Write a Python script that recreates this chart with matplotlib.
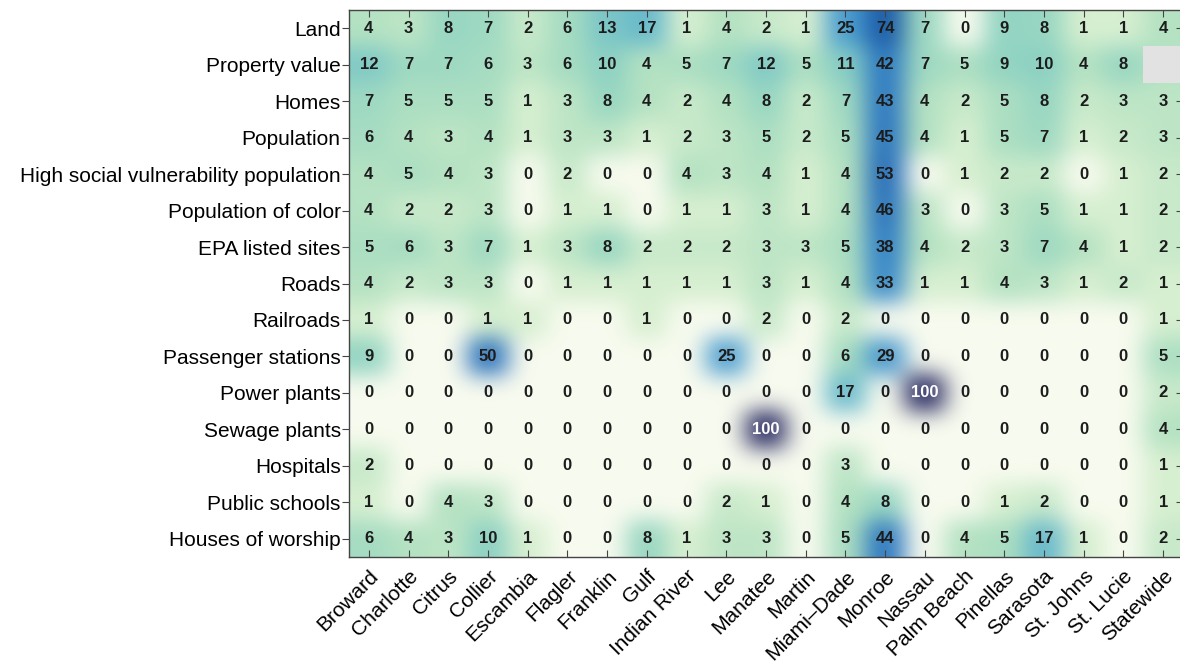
import numpy as np
import matplotlib
matplotlib.use("Agg")
import matplotlib.pyplot as plt
from matplotlib.colors import LinearSegmentedColormap, PowerNorm
from matplotlib.patches import Rectangle

counties = ["Broward", "Charlotte", "Citrus", "Collier", "Escambia", "Flagler",
            "Franklin", "Gulf", "Indian River", "Lee", "Manatee", "Martin",
            "Miami\u2013Dade", "Monroe", "Nassau", "Palm Beach", "Pinellas",
            "Sarasota", "St. Johns", "St. Lucie", "Statewide"]

assets = ["Land", "Property value", "Homes", "Population",
          "High social vulnerability population", "Population of color",
          "EPA listed sites", "Roads", "Railroads", "Passenger stations",
          "Power plants", "Sewage plants", "Hospitals", "Public schools",
          "Houses of worship"]

nan = np.nan
land          = [4, 3, 8, 7, 2, 6, 13, 17, 1, 4, 2, 1, 25, 74, 7, 0, 9, 8, 1, 1, 4]
property_val  = [12, 7, 7, 6, 3, 6, 10, 4, 5, 7, 12, 5, 11, 42, 7, 5, 9, 10, 4, 8, nan]
homes         = [7, 5, 5, 5, 1, 3, 8, 4, 2, 4, 8, 2, 7, 43, 4, 2, 5, 8, 2, 3, 3]
population    = [6, 4, 3, 4, 1, 3, 3, 1, 2, 3, 5, 2, 5, 45, 4, 1, 5, 7, 1, 2, 3]
high_svi      = [4, 5, 4, 3, 0, 2, 0, 0, 4, 3, 4, 1, 4, 53, 0, 1, 2, 2, 0, 1, 2]
pop_color     = [4, 2, 2, 3, 0, 1, 1, 0, 1, 1, 3, 1, 4, 46, 3, 0, 3, 5, 1, 1, 2]
epa_sites     = [5, 6, 3, 7, 1, 3, 8, 2, 2, 2, 3, 3, 5, 38, 4, 2, 3, 7, 4, 1, 2]
roads         = [4, 2, 3, 3, 0, 1, 1, 1, 1, 1, 3, 1, 4, 33, 1, 1, 4, 3, 1, 2, 1]
railroads     = [1, 0, 0, 1, 1, 0, 0, 1, 0, 0, 2, 0, 2, 0, 0, 0, 0, 0, 0, 0, 1]
passenger     = [9, 0, 0, 50, 0, 0, 0, 0, 0, 25, 0, 0, 6, 29, 0, 0, 0, 0, 0, 0, 5]
power_plants  = [0, 0, 0, 0, 0, 0, 0, 0, 0, 0, 0, 0, 17, 0, 100, 0, 0, 0, 0, 0, 2]
sewage_plants = [0, 0, 0, 0, 0, 0, 0, 0, 0, 0, 100, 0, 0, 0, 0, 0, 0, 0, 0, 0, 4]
hospitals     = [2, 0, 0, 0, 0, 0, 0, 0, 0, 0, 0, 0, 3, 0, 0, 0, 0, 0, 0, 0, 1]
schools       = [1, 0, 4, 3, 0, 0, 0, 0, 0, 2, 1, 0, 4, 8, 0, 0, 1, 2, 0, 0, 1]
worship       = [6, 4, 3, 10, 1, 0, 0, 8, 1, 3, 3, 0, 5, 44, 0, 4, 5, 17, 1, 0, 2]

values = np.array([land, property_val, homes, population, high_svi, pop_color,
                   epa_sites, roads, railroads, passenger, power_plants,
                   sewage_plants, hospitals, schools, worship], dtype=float)

plt.rcParams["font.family"] = ["Liberation Sans", "DejaVu Sans"]

cmap = LinearSegmentedColormap.from_list("exposure", [
    (0.00, "#f8fbef"),
    (0.10, "#d6efd0"),
    (0.20, "#b4e2c2"),
    (0.30, "#92d4c2"),
    (0.40, "#6cbdcb"),
    (0.50, "#4c9ed0"),
    (0.60, "#3686c8"),
    (0.70, "#2a72bc"),
    (0.86, "#1c5eaa"),
    (0.93, "#1f4488"),
    (1.00, "#262760"),
])
cmap.set_bad("#b4e2c2")
norm = PowerNorm(gamma=0.5, vmin=0, vmax=100)

# colour every cell, then soften the cell borders with a gaussian blur
rgba = cmap(norm(np.ma.masked_invalid(values)))
up = 24
big = np.repeat(np.repeat(rgba, up, axis=0), up, axis=1)
sigma = 0.30 * up
radius = int(3 * sigma)
k = np.exp(-0.5 * (np.arange(-radius, radius + 1) / sigma) ** 2)
k /= k.sum()


def blur(img, axis):
    pad = [(0, 0)] * img.ndim
    pad[axis] = (radius, radius)
    p = np.pad(img, pad, mode="edge")
    out = np.zeros_like(img)
    n = img.shape[axis]
    for i, w in enumerate(k):
        out += w * np.take(p, range(i, i + n), axis=axis)
    return out


smooth = np.clip(blur(blur(big, 0), 1), 0, 1)

fig = plt.figure(figsize=(11.8, 6.61), dpi=100)
left, right_px, top_px, bottom_px = 349, 1183, 10, 557
ax = fig.add_axes([left / 1180, 1 - bottom_px / 661,
                   (right_px - left) / 1180, (bottom_px - top_px) / 661])

n_rows, n_cols = values.shape
ax.imshow(smooth, aspect="auto", interpolation="bilinear",
          extent=(-0.5, n_cols - 0.5, n_rows - 0.5, -0.5))

for i in range(n_rows):
    for j in range(n_cols):
        v = values[i, j]
        if np.isnan(v):
            ax.add_patch(Rectangle((j - 0.5, i - 0.5), 1, 1, facecolor="#e2e2e2",
                                   edgecolor="none", zorder=3))
            continue
        ax.text(j, i, f"{int(v)}", ha="center", va="center", fontsize=12,
                fontweight="bold", color="white" if v >= 90 else "#1c1c1c",
                zorder=4)

ax.set_xticks(range(n_cols))
ax.set_xticklabels(counties, rotation=45, ha="right", rotation_mode="anchor",
                   fontsize=15)
ax.set_yticks(range(n_rows))
ax.set_yticklabels(assets, fontsize=15)
ax.set_xlim(-0.5, n_cols - 0.5)
ax.set_ylim(n_rows - 0.5, -0.5)

ax.tick_params(axis="y", left=True, right=True, direction="out", length=5,
               width=0.8, color="#444444", pad=1)
ax.tick_params(axis="x", top=True, bottom=True, direction="in", length=5,
               width=0.8, color="#444444", pad=7)
for t in ax.yaxis.get_ticklines()[1::2]:
    t.set_marker(0)  # right-side ticks point inward
for sp in ax.spines.values():
    sp.set_color("#444444")
    sp.set_linewidth(1.0)

fig.savefig("out.png", dpi=100)
